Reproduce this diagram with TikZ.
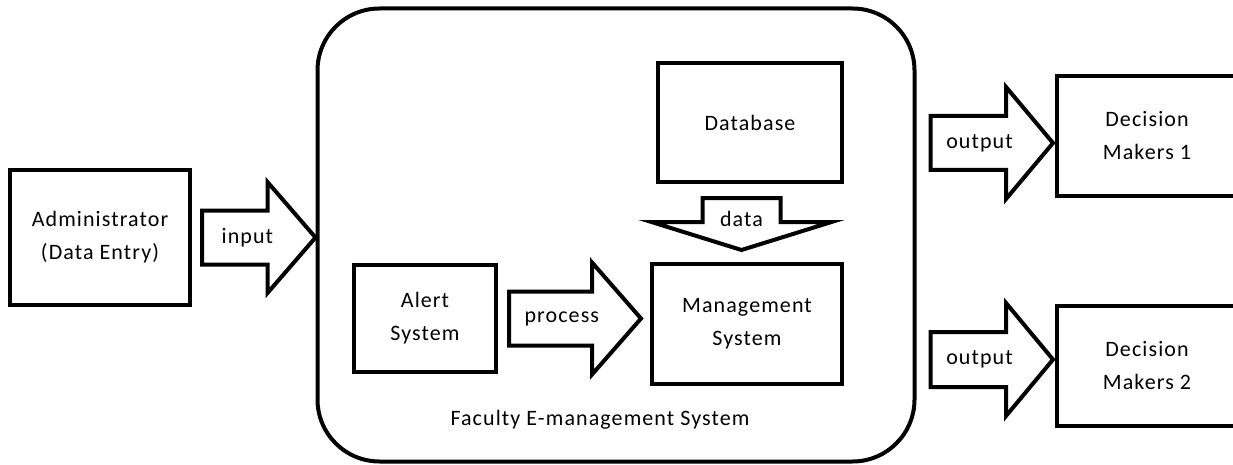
\documentclass[tikz,border=0pt]{standalone}
\usepackage{fontspec}
\setmainfont{Carlito}[LetterSpace=5]
\usepackage{tikz}
\usetikzlibrary{calc}

% Block arrow: #1 name of label, #2 tail, #3 tip,
% #4 half shaft width, #5 half head width, #6 head length, #7 label.
\newcommand{\blockarrow}[7]{%
    \coordinate (#1Base) at ($(#3)!#6!(#2)$);
    \draw[block] ($(#2)!#4!90:(#3)$) -- ($(#1Base)!#4!90:(#3)$)
        -- ($(#1Base)!#5!90:(#3)$) -- (#3)
        -- ($(#1Base)!#5!-90:(#3)$) -- ($(#1Base)!#4!-90:(#3)$)
        -- ($(#2)!#4!-90:(#3)$) -- cycle;
    \node (#1) at ($(#2)!0.4!(#3)$) {#7};
}

\begin{document}
\begin{tikzpicture}[%
        x = 1pt,
        y = -1pt,
        line cap = round,
        font = \fontsize{22}{33}\selectfont,
        box/.style = {draw, line width = 4pt, fill = white,
            align = center, inner sep = 0pt},
        block/.style = {draw, line width = 4pt, fill = white,
            line join = miter}
    ]

        % Page size.
        \useasboundingbox (0, 0) rectangle (1233, 465);
        \clip (0, 0) rectangle (1233, 465);

        % Outer system frame.
        \node[box, rounded corners = 62, minimum width = 597,
            minimum height = 453] (frame) at (616, 235) {};
        \node (frameLabel) at (600, 420) {Faculty E-management System};

        % Boxes.
        \node[box, minimum width = 180, minimum height = 135]
            (admin) at (100, 237.5) {Administrator\\(Data Entry)};
        \node[box, minimum width = 184, minimum height = 119]
            (database) at (750, 122.5) {Database};
        \node[box, minimum width = 190, minimum height = 120]
            (mgmt) at (747, 324) {Management\\System};
        \node[box, minimum width = 142, minimum height = 107]
            (alert) at (425, 318.5) {Alert\\System};
        \node[box, minimum width = 180, minimum height = 120]
            (dmOne) at (1147, 136) {Decision\\Makers 1};
        \node[box, minimum width = 180, minimum height = 120]
            (dmTwo) at (1147, 366) {Decision\\Makers 2};

        % Arrow ends.
        \coordinate (inTail) at ($(admin.east) + (10, 0)$);
        \coordinate (inTip) at (frame.west |- admin.east);
        \coordinate (procTail) at ($(alert.east) + (11, 0)$);
        \coordinate (procTip) at ($(mgmt.west |- alert.east) + (-9, 0)$);
        \coordinate (dataTail) at ($(database.south) + (-8.5, 14)$);
        \coordinate (dataTip) at ($(dataTail |- mgmt.north) + (0, -12)$);
        \coordinate (outOneTail) at ($(frame.east |- dmOne.west) + (14, 7)$);
        \coordinate (outOneTip) at ($(outOneTail -| dmOne.west) + (-2, 0)$);
        \coordinate (outTwoTail) at ($(frame.east |- dmTwo.west) + (14, -6.5)$);
        \coordinate (outTwoTip) at ($(outTwoTail -| dmTwo.west) + (-2, 0)$);

        % Block arrows.
        \blockarrow{input}{inTail}{inTip}{27pt}{55.5pt}{48pt}{input}
        \blockarrow{process}{procTail}{procTip}{27pt}{56pt}{49pt}{process}
        \blockarrow{data}{dataTail}{dataTip}{39pt}{90pt}{28pt}{data}
        \blockarrow{outOne}{outOneTail}{outOneTip}{27pt}{56pt}{47pt}{output}
        \blockarrow{outTwo}{outTwoTail}{outTwoTip}{27.5pt}{56.5pt}{47pt}{output}
    \end{tikzpicture}
\end{document}
